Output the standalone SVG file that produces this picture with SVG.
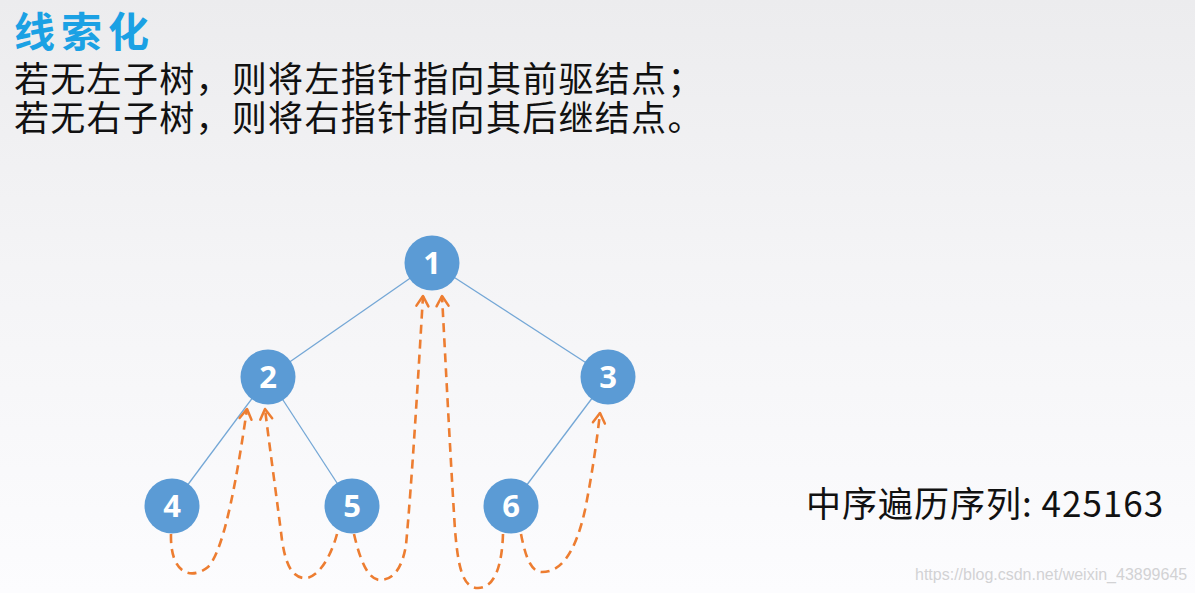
<svg xmlns="http://www.w3.org/2000/svg" width="1195" height="593" viewBox="0 0 1195 593">
<defs>
<linearGradient id="bg" x1="0" y1="0" x2="0" y2="1">
<stop offset="0" stop-color="#ececee"/>
<stop offset="0.45" stop-color="#f4f4f6"/>
<stop offset="1" stop-color="#fcfcfe"/>
</linearGradient>
<marker id="arr" markerUnits="userSpaceOnUse" markerWidth="20" markerHeight="20" refX="0" refY="0" viewBox="-12 -10 14 20" orient="auto">
<path d="M-10,-6 L0,0 L-10,6" fill="none" stroke="#ed7d31" stroke-width="2.5" stroke-linecap="round" stroke-linejoin="round"/>
</marker>
<style>
.cjk{font-family:"Noto Sans CJK SC","Noto Sans",sans-serif}
.edge{stroke:#74a7d6;stroke-width:1.3;fill:none}
.thread{stroke:#ed7d31;stroke-width:2.6;fill:none;stroke-dasharray:9 6;marker-end:url(#arr)}
.node circle{fill:#5b9bd5}
.node text{font-family:"Open Sans","Noto Sans",sans-serif;font-weight:bold;font-size:31px;fill:#ffffff;text-anchor:middle}
</style>
</defs>
<rect x="0" y="0" width="1195" height="593" fill="url(#bg)"/>
<text class="cjk" x="14" y="47" font-size="41" font-weight="bold" letter-spacing="6" fill="#1ba1e4">线索化</text>
<text class="cjk" x="14" y="92" font-size="35" letter-spacing="1.3" fill="#111111">若无左子树，则将左指针指向其前驱结点；</text>
<text class="cjk" x="14" y="131" font-size="35" letter-spacing="1.3" fill="#111111">若无右子树，则将右指针指向其后继结点。</text>
<g id="connectors">
<line class="edge" x1="432" y1="263" x2="268" y2="377"/>
<line class="edge" x1="432" y1="263" x2="608" y2="377"/>
<line class="edge" x1="268" y1="377" x2="172" y2="506"/>
<line class="edge" x1="268" y1="377" x2="352" y2="506"/>
<line class="edge" x1="608" y1="377" x2="511" y2="506"/>
<path class="thread" d="M171,534 C170,575 192,580 208,567 C225,550 238,470 247,409"/>
<path class="thread" d="M337,534 C330,560 316,580 303,578 C290,576 285,560 282,540 C277,500 270,450 265,409"/>
<path class="thread" d="M354,534 C360,560 368,580 380,580 C392,580 402,570 406,545 C412,480 418,380 423,296"/>
<path class="thread" d="M503,534 C502,565 495,588 478,588 C462,588 458,565 455,530 C450,450 446,370 442,296"/>
<path class="thread" d="M521,534 C526,560 532,572 542,572 C560,572 575,555 585,510 C592,475 597,440 600,413"/>
</g>
<g id="node1" class="node"><circle cx="432" cy="263" r="27.5"/><text x="432" y="274">1</text></g>
<g id="node2" class="node"><circle cx="268" cy="377" r="27.5"/><text x="268" y="388">2</text></g>
<g id="node3" class="node"><circle cx="608" cy="377" r="27.5"/><text x="608" y="388">3</text></g>
<g id="node4" class="node"><circle cx="172" cy="506" r="27.5"/><text x="172" y="517">4</text></g>
<g id="node5" class="node"><circle cx="352" cy="506" r="27.5"/><text x="352" y="517">5</text></g>
<g id="node6" class="node"><circle cx="511" cy="506" r="27.5"/><text x="511" y="517">6</text></g>
<text class="cjk" x="806" y="517" font-size="35" letter-spacing="1" fill="#111111">中序遍历序列: 425163</text>
<text x="915" y="580" font-family="Liberation Sans, Arial, sans-serif" font-size="16" fill="#d2d2d4">https://blog.csdn.net/weixin_43899645</text>
</svg>
